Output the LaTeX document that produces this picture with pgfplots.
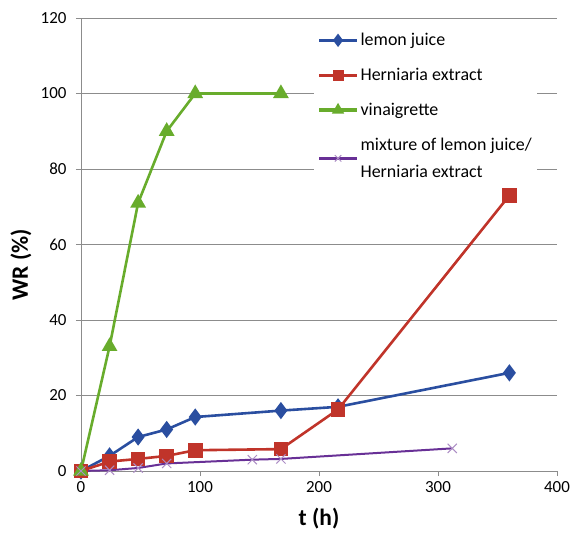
\documentclass[border=0pt]{standalone}
\usepackage{pgfplots}
\pgfplotsset{compat=1.18}
\usepackage{fontspec}
\setmainfont{Carlito}
\definecolor{cblue}{RGB}{42,78,160}
\definecolor{cred}{RGB}{192,52,42}
\definecolor{cgreen}{RGB}{104,172,44}
\definecolor{cpurple}{RGB}{104,48,150}
\definecolor{cgrid}{RGB}{140,140,140}
\begin{document}
\begin{tikzpicture}[x=1bp,y=1bp]
\begin{axis}[
  name=ax,
  scale only axis,
  width=476bp, height=453bp,
  xmin=0, xmax=400, ymin=0, ymax=120,
  xtick={0,100,...,400}, ytick={0,20,...,120},
  axis x line*=bottom, axis y line*=left,
  axis line style={cgrid, line width=0.8pt, -},
  tick style={cgrid, line width=0.8pt},
  tick align=outside, major tick length=5bp,
  ymajorgrids, grid style={cgrid, line width=0.8pt},
  /pgf/number format/assume math mode=true,
  tick label style={font=\fontsize{17}{19}\selectfont},
  yticklabel style={xshift=-6bp},
  xticklabel style={yshift=-2bp},
  xlabel={\textbf{t (h)}}, ylabel={\textbf{WR (\%)}},
  label style={font=\fontsize{23.5}{26}\selectfont},
  xlabel style={at={(axis description cs:0.5,-0.104)}, anchor=center},
  ylabel style={at={(axis description cs:-0.126,0.455)}, anchor=center},
  clip=false,
  legend style={at={(0.49,0.982)}, anchor=north west, draw=none, fill=white,
    font=\fontsize{18}{27}\selectfont, row sep=17bp, inner xsep=3bp, inner ysep=5bp,
    cells={align=left}},
  legend cell align=left,
  legend image code/.code={
    \draw[line width=3.2bp, solid] (0bp,0bp) -- (38bp,0bp);
    \draw[every mark/.append style={scale=0.7}] plot coordinates {(19bp,0bp)};},
]
\addplot[cblue, line width=2.6bp, mark=diamond*, mark size=6.5bp, mark options={solid}] coordinates {
(0,0) (24,4) (48,9) (72,11) (96,14.3) (168,16) (216,17) (360,26)
};
\addlegendentry{lemon juice}
\addplot[cred, line width=2.6bp, mark=square*, mark size=6bp, mark options={solid}] coordinates {
(0,0) (24,2.5) (48,3.2) (72,4) (96,5.5) (168,5.8) (216,16.3) (360,73)
};
\addlegendentry{Herniaria extract}
\addplot[cgreen, line width=2.6bp, mark=triangle*, mark size=6.5bp, mark options={solid}] coordinates {
(0,0) (24,33) (48,71) (72,90) (96,100) (168,100)
};
\addlegendentry{vinaigrette}
\addplot[cpurple, line width=2bp, mark=x, mark size=6.5bp, mark options={solid, line width=1bp, cpurple!55}] coordinates {
(0,0) (24,0.2) (48,0.8) (72,2) (144,3) (168,3.2) (312,6)
};
\addlegendentry{mixture of lemon juice/\\Herniaria extract}
\end{axis}
\pgfresetboundingbox
\path[use as bounding box] ([shift={(-81bp,-62bp)}]ax.south west) rectangle ([shift={(17bp,18bp)}]ax.north east);
\end{tikzpicture}
\end{document}
